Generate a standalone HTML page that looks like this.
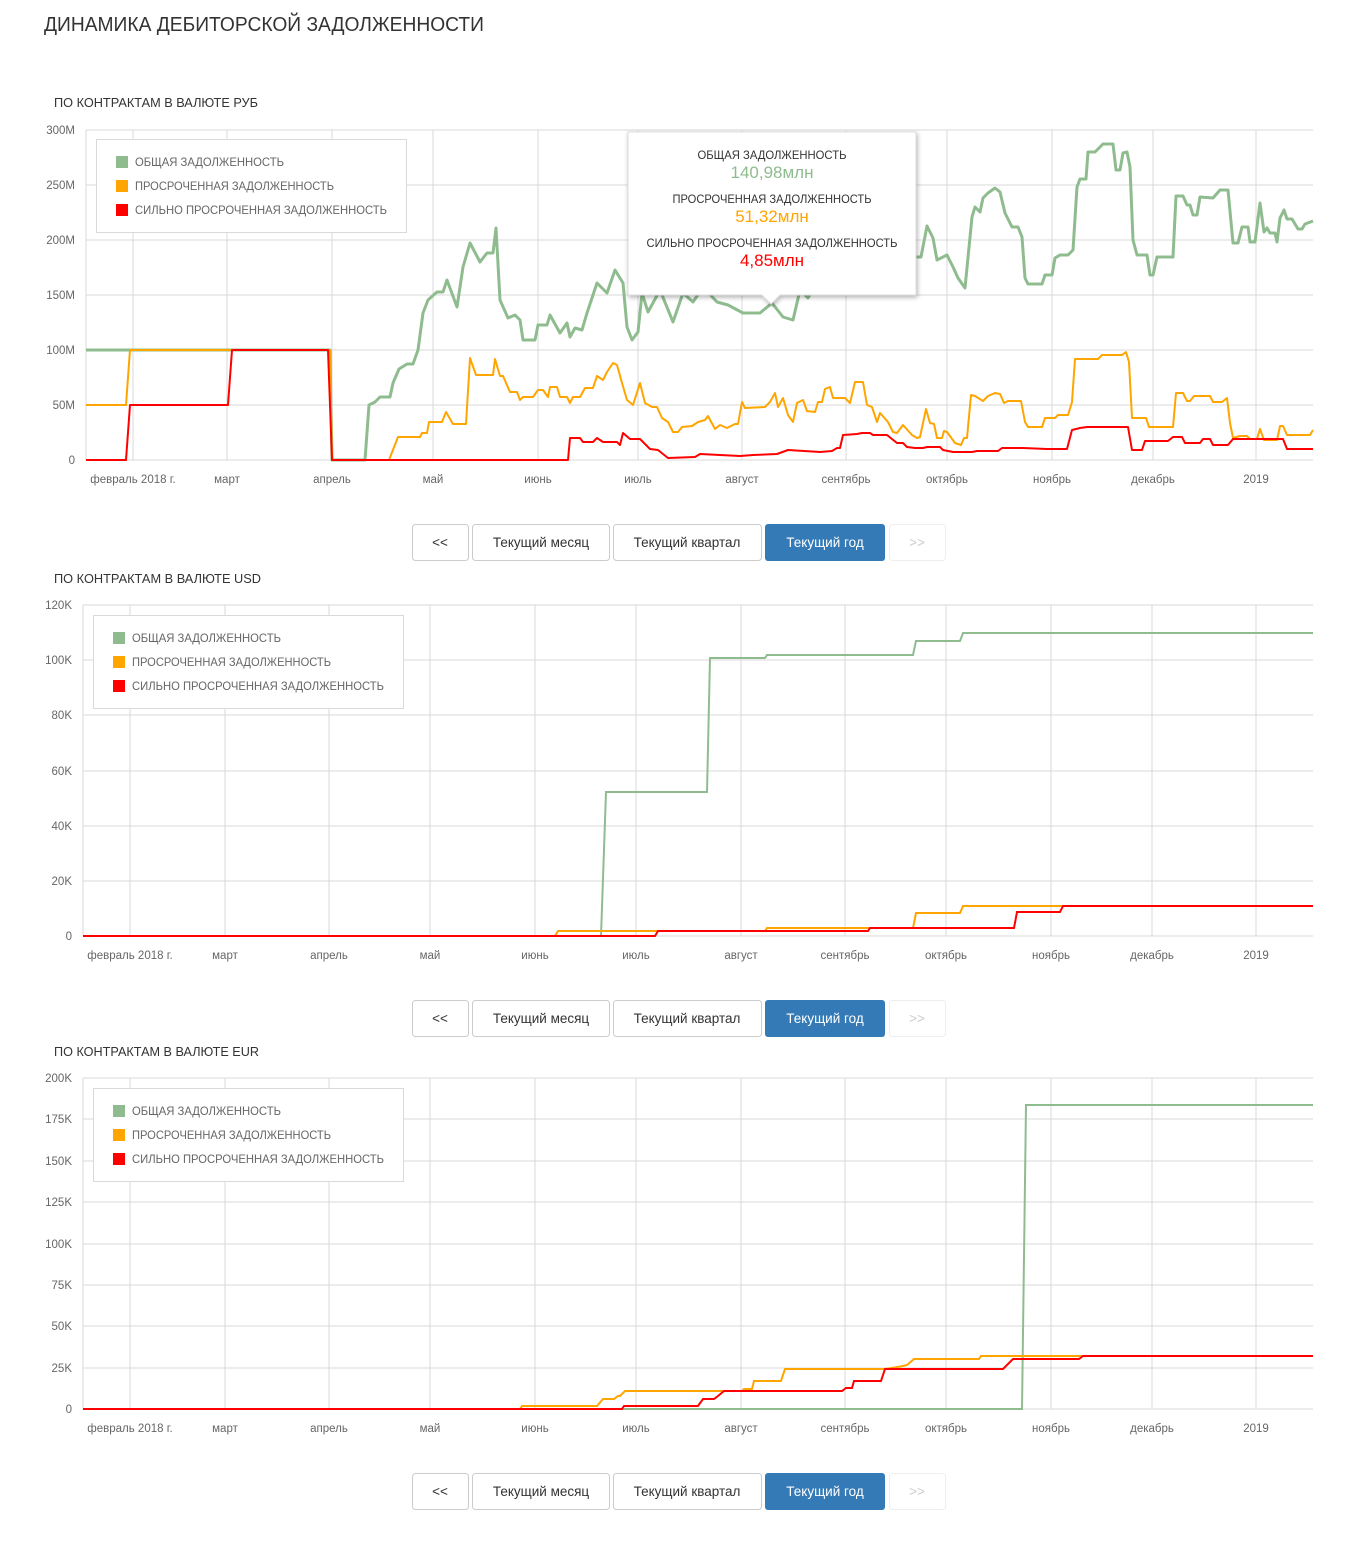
<!DOCTYPE html>
<html><head><meta charset="utf-8"><style>
body{margin:0;background:#fff;}
svg{display:block;font-family:"Liberation Sans","DejaVu Sans",sans-serif;}
.g{stroke:#d9d9d9;stroke-width:1;}
.yl{font-size:11.5px;fill:#666;text-anchor:end;}
.xl{font-size:11.5px;fill:#666;text-anchor:middle;}
.h{font-size:13px;fill:#333;}
.lg{font-size:12px;fill:#666;}
.bt{font-size:13.5px;fill:#333;text-anchor:middle;}
</style></head><body>
<svg width="1350" height="1561" viewBox="0 0 1350 1561">
<defs><filter id="sh" x="-10%" y="-10%" width="120%" height="130%"><feDropShadow dx="1" dy="2" stdDeviation="2.5" flood-color="#000" flood-opacity="0.3"/></filter></defs>
<text x="44" y="31" font-size="20" fill="#333" textLength="440" lengthAdjust="spacingAndGlyphs">ДИНАМИКА ДЕБИТОРСКОЙ ЗАДОЛЖЕННОСТИ</text>

<!-- CHART 1 -->
<text class="h" x="54" y="107" textLength="204" lengthAdjust="spacingAndGlyphs">ПО КОНТРАКТАМ В ВАЛЮТЕ РУБ</text>
<g class="g">
<line x1="86" x2="1313" y1="130" y2="130"/><line x1="86" x2="1313" y1="185" y2="185"/><line x1="86" x2="1313" y1="240" y2="240"/><line x1="86" x2="1313" y1="295" y2="295"/><line x1="86" x2="1313" y1="350" y2="350"/><line x1="86" x2="1313" y1="405" y2="405"/><line x1="86" x2="1313" y1="460" y2="460"/>
<line x1="86" x2="86" y1="130" y2="460"/>
<line x1="133" x2="133" y1="130" y2="460"/><line x1="227" x2="227" y1="130" y2="460"/><line x1="332" x2="332" y1="130" y2="460"/><line x1="433" x2="433" y1="130" y2="460"/><line x1="538" x2="538" y1="130" y2="460"/><line x1="638" x2="638" y1="130" y2="460"/><line x1="742" x2="742" y1="130" y2="460"/><line x1="846" x2="846" y1="130" y2="460"/><line x1="947" x2="947" y1="130" y2="460"/><line x1="1052" x2="1052" y1="130" y2="460"/><line x1="1153" x2="1153" y1="130" y2="460"/><line x1="1256" x2="1256" y1="130" y2="460"/>
</g>
<g class="yl"><text x="75" y="134">300M</text><text x="75" y="189">250M</text><text x="75" y="244">200M</text><text x="75" y="299">150M</text><text x="75" y="354">100M</text><text x="75" y="409">50M</text><text x="75" y="464">0</text></g>
<g class="xl"><text x="133" y="483">февраль 2018 г.</text><text x="227" y="483">март</text><text x="332" y="483">апрель</text><text x="433" y="483">май</text><text x="538" y="483">июнь</text><text x="638" y="483">июль</text><text x="742" y="483">август</text><text x="846" y="483">сентябрь</text><text x="947" y="483">октябрь</text><text x="1052" y="483">ноябрь</text><text x="1153" y="483">декабрь</text><text x="1256" y="483">2019</text></g>
<g fill="none" stroke-width="2" stroke-linejoin="round">
<polyline stroke="#8fbc8f" stroke-width="3" points="86,350 330,350 332,460 365,460 369,405 375,402 380,397 390,397 393,383 399,369 407,364 413,364 418,350 423,313 428,300 437,292 443,292 447,280 457,307 463,267 470,243 480,262 487,253 493,253 496,228 500,300 508,318 515,315 520,320 523,340 535,340 538,325 547,325 550,315 560,333 567,323 570,337 575,328 582,330 587,313 597,283 607,293 615,270 623,283 627,327 632,340 638,332 642,293 648,312 660,290 673,322 683,293 693,302 703,287 717,302 728,305 743,313 760,313 772,303 783,317 793,320 800,290 808,298 815,285 830,280 845,270 860,265 875,275 890,262 905,255 917,257 921,257 927,226 933,238 937,260 947,255 953,267 958,278 965,288 972,217 975,207 980,212 983,198 988,193 995,188 1000,192 1005,213 1012,227 1018,227 1022,237 1025,278 1028,284 1042,284 1045,275 1052,275 1055,258 1060,255 1068,255 1073,250 1077,187 1080,179 1086,179 1088,152 1095,152 1103,144 1113,144 1116,170 1120,170 1123,153 1127,152 1130,167 1133,240 1137,255 1147,255 1150,275 1153,275 1157,257 1173,257 1176,196 1183,196 1187,205 1190,205 1193,215 1197,215 1200,197 1213,198 1220,190 1228,190 1233,243 1238,243 1242,227 1248,227 1250,242 1255,242 1260,203 1264,232 1267,228 1270,233 1275,233 1277,242 1280,218 1284,210 1287,219 1292,219 1298,229 1302,229 1305,224 1313,221"/>
<polyline stroke="#ffa500" points="86,405 126,405 130,350 330,350 332,460 389,460 398,437 420,437 422,433 427,433 429,422 442,422 446,412 453,424 466,424 470,358 476,375 493,375 495,359 500,376 503,376 510,392 517,392 520,400 523,397 533,397 538,390 543,390 548,397 550,387 557,387 560,397 567,397 570,403 573,397 580,397 585,388 593,388 597,376 603,380 607,372 613,363 617,365 622,383 627,400 633,405 640,383 645,403 652,407 657,407 662,418 668,422 673,432 678,432 682,427 692,426 698,422 705,420 708,416 715,429 720,425 727,428 735,424 738,424 742,402 745,408 765,407 770,402 775,393 778,407 783,398 788,415 793,422 797,403 803,400 807,411 815,412 818,402 822,402 825,389 830,387 833,398 845,398 850,403 855,382 863,382 867,405 872,407 877,422 880,413 888,422 893,432 897,433 903,425 912,435 917,438 920,437 926,409 930,423 934,424 937,438 942,438 944,431 947,432 955,443 961,445 964,438 967,438 971,395 975,396 983,401 988,396 995,393 1000,394 1004,403 1008,401 1021,401 1025,422 1028,427 1042,427 1045,418 1055,418 1058,415 1068,415 1072,402 1075,359 1098,359 1102,355 1122,355 1126,352 1129,362 1132,418 1146,418 1149,427 1173,427 1176,393 1183,393 1187,401 1190,401 1194,396 1210,396 1213,402 1222,402 1227,398 1230,423 1233,438 1240,436 1247,436 1250,439 1257,439 1260,429 1264,440 1277,440 1280,426 1283,426 1287,435 1310,435 1313,430"/>
<polyline stroke="#ff0000" points="86,460 126,460 130,405 228,405 232,350 328,350 332,460 568,460 570,438 580,438 583,442 593,442 597,438 603,442 617,442 620,445 623,433 630,439 640,439 650,449 658,450 668,458 695,457 700,454 740,456 753,455 777,454 788,450 820,452 832,451 837,448 840,448 843,435 857,434 862,433 870,433 873,435 887,435 897,443 903,443 907,447 915,448 923,448 927,447 940,447 943,450 953,452 972,452 977,451 998,451 1002,448 1023,448 1047,449 1067,449 1072,430 1080,428 1087,427 1128,427 1132,450 1142,450 1145,441 1168,441 1173,437 1182,437 1185,443 1200,443 1203,439 1210,439 1213,445 1228,445 1233,439 1283,439 1287,449 1313,449"/>
</g>
<rect x="96.5" y="139.5" width="310" height="93" fill="#fff" stroke="#d9d9d9"/>
<rect x="116" y="156" width="12" height="12" fill="#8fbc8f"/><text class="lg" x="135" y="166" textLength="149" lengthAdjust="spacingAndGlyphs">ОБЩАЯ ЗАДОЛЖЕННОСТЬ</text>
<rect x="116" y="180" width="12" height="12" fill="#ffa500"/><text class="lg" x="135" y="190" textLength="199" lengthAdjust="spacingAndGlyphs">ПРОСРОЧЕННАЯ ЗАДОЛЖЕННОСТЬ</text>
<rect x="116" y="204" width="12" height="12" fill="#ff0000"/><text class="lg" x="135" y="214" textLength="252" lengthAdjust="spacingAndGlyphs">СИЛЬНО ПРОСРОЧЕННАЯ ЗАДОЛЖЕННОСТЬ</text>
<!-- tooltip -->
<g filter="url(#sh)"><path d="M628,132 H916 V295 H780 L771,304 L762,295 H628 Z" fill="#fff" stroke="#ddd"/></g>
<g text-anchor="middle">
<text x="772" y="159" font-size="12" fill="#333" textLength="149" lengthAdjust="spacingAndGlyphs">ОБЩАЯ ЗАДОЛЖЕННОСТЬ</text>
<text x="772" y="178" font-size="17" fill="#8fbc8f">140,98млн</text>
<text x="772" y="203" font-size="12" fill="#333" textLength="199" lengthAdjust="spacingAndGlyphs">ПРОСРОЧЕННАЯ ЗАДОЛЖЕННОСТЬ</text>
<text x="772" y="222" font-size="17" fill="#ffa500">51,32млн</text>
<text x="772" y="247" font-size="12" fill="#333" textLength="251" lengthAdjust="spacingAndGlyphs">СИЛЬНО ПРОСРОЧЕННАЯ ЗАДОЛЖЕННОСТЬ</text>
<text x="772" y="266" font-size="17" fill="#ff0000">4,85млн</text>
</g>
<!-- buttons 1 -->
<g id="btns">
<rect x="412.5" y="524.5" width="56" height="36" rx="3" fill="#fff" stroke="#ccc"/><text class="bt" x="440" y="547">&lt;&lt;</text>
<rect x="472.5" y="524.5" width="137" height="36" rx="3" fill="#fff" stroke="#ccc"/><text class="bt" x="541" y="547">Текущий месяц</text>
<rect x="613.5" y="524.5" width="148" height="36" rx="3" fill="#fff" stroke="#ccc"/><text class="bt" x="687" y="547">Текущий квартал</text>
<rect x="765" y="524" width="120" height="37" rx="3" fill="#337ab7"/><text class="bt" x="825" y="547" style="fill:#fff">Текущий год</text>
<rect x="889.5" y="524.5" width="56" height="36" rx="3" fill="#fff" stroke="#eee"/><text class="bt" x="917" y="547" style="fill:#ccc">&gt;&gt;</text>
</g>

<!-- CHART 2 -->
<text class="h" x="54" y="583" textLength="207" lengthAdjust="spacingAndGlyphs">ПО КОНТРАКТАМ В ВАЛЮТЕ USD</text>
<g class="g">
<line x1="83" x2="1313" y1="605" y2="605"/><line x1="83" x2="1313" y1="660" y2="660"/><line x1="83" x2="1313" y1="715" y2="715"/><line x1="83" x2="1313" y1="771" y2="771"/><line x1="83" x2="1313" y1="826" y2="826"/><line x1="83" x2="1313" y1="881" y2="881"/><line x1="83" x2="1313" y1="936" y2="936"/>
<line x1="83" x2="83" y1="605" y2="936"/>
<line x1="130" x2="130" y1="605" y2="936"/><line x1="225" x2="225" y1="605" y2="936"/><line x1="329" x2="329" y1="605" y2="936"/><line x1="430" x2="430" y1="605" y2="936"/><line x1="535" x2="535" y1="605" y2="936"/><line x1="636" x2="636" y1="605" y2="936"/><line x1="741" x2="741" y1="605" y2="936"/><line x1="845" x2="845" y1="605" y2="936"/><line x1="946" x2="946" y1="605" y2="936"/><line x1="1051" x2="1051" y1="605" y2="936"/><line x1="1152" x2="1152" y1="605" y2="936"/><line x1="1256" x2="1256" y1="605" y2="936"/>
</g>
<g class="yl"><text x="72" y="609">120K</text><text x="72" y="664">100K</text><text x="72" y="719">80K</text><text x="72" y="775">60K</text><text x="72" y="830">40K</text><text x="72" y="885">20K</text><text x="72" y="940">0</text></g>
<g class="xl"><text x="130" y="959">февраль 2018 г.</text><text x="225" y="959">март</text><text x="329" y="959">апрель</text><text x="430" y="959">май</text><text x="535" y="959">июнь</text><text x="636" y="959">июль</text><text x="741" y="959">август</text><text x="845" y="959">сентябрь</text><text x="946" y="959">октябрь</text><text x="1051" y="959">ноябрь</text><text x="1152" y="959">декабрь</text><text x="1256" y="959">2019</text></g>
<g fill="none" stroke-width="2">
<polyline stroke="#8fbc8f" points="83,936 601,936 606,792 707,792 710,658 765,658 767,655 913,655 916,641 960,641 963,633 1313,633"/>
<polyline stroke="#ffa500" points="83,936 555,936 558,931 765,931 767,928 868,928 871,928 913,928 916,913 960,913 963,906 1313,906"/>
<polyline stroke="#ff0000" points="83,936 655,936 658,931 868,931 870,928 1014,928 1017,912 1060,912 1063,906 1313,906"/>
</g>
<rect x="93.5" y="615.5" width="310" height="93" fill="#fff" stroke="#d9d9d9"/>
<rect x="113" y="632" width="12" height="12" fill="#8fbc8f"/><text class="lg" x="132" y="642" textLength="149" lengthAdjust="spacingAndGlyphs">ОБЩАЯ ЗАДОЛЖЕННОСТЬ</text>
<rect x="113" y="656" width="12" height="12" fill="#ffa500"/><text class="lg" x="132" y="666" textLength="199" lengthAdjust="spacingAndGlyphs">ПРОСРОЧЕННАЯ ЗАДОЛЖЕННОСТЬ</text>
<rect x="113" y="680" width="12" height="12" fill="#ff0000"/><text class="lg" x="132" y="690" textLength="252" lengthAdjust="spacingAndGlyphs">СИЛЬНО ПРОСРОЧЕННАЯ ЗАДОЛЖЕННОСТЬ</text>
<use href="#btns" y="476"/>

<!-- CHART 3 -->
<text class="h" x="54" y="1056" textLength="205" lengthAdjust="spacingAndGlyphs">ПО КОНТРАКТАМ В ВАЛЮТЕ EUR</text>
<g class="g">
<line x1="83" x2="1313" y1="1078" y2="1078"/><line x1="83" x2="1313" y1="1119" y2="1119"/><line x1="83" x2="1313" y1="1161" y2="1161"/><line x1="83" x2="1313" y1="1202" y2="1202"/><line x1="83" x2="1313" y1="1244" y2="1244"/><line x1="83" x2="1313" y1="1285" y2="1285"/><line x1="83" x2="1313" y1="1326" y2="1326"/><line x1="83" x2="1313" y1="1368" y2="1368"/><line x1="83" x2="1313" y1="1409" y2="1409"/>
<line x1="83" x2="83" y1="1078" y2="1409"/>
<line x1="130" x2="130" y1="1078" y2="1409"/><line x1="225" x2="225" y1="1078" y2="1409"/><line x1="329" x2="329" y1="1078" y2="1409"/><line x1="430" x2="430" y1="1078" y2="1409"/><line x1="535" x2="535" y1="1078" y2="1409"/><line x1="636" x2="636" y1="1078" y2="1409"/><line x1="741" x2="741" y1="1078" y2="1409"/><line x1="845" x2="845" y1="1078" y2="1409"/><line x1="946" x2="946" y1="1078" y2="1409"/><line x1="1051" x2="1051" y1="1078" y2="1409"/><line x1="1152" x2="1152" y1="1078" y2="1409"/><line x1="1256" x2="1256" y1="1078" y2="1409"/>
</g>
<g class="yl"><text x="72" y="1082">200K</text><text x="72" y="1123">175K</text><text x="72" y="1165">150K</text><text x="72" y="1206">125K</text><text x="72" y="1248">100K</text><text x="72" y="1289">75K</text><text x="72" y="1330">50K</text><text x="72" y="1372">25K</text><text x="72" y="1413">0</text></g>
<g class="xl"><text x="130" y="1432">февраль 2018 г.</text><text x="225" y="1432">март</text><text x="329" y="1432">апрель</text><text x="430" y="1432">май</text><text x="535" y="1432">июнь</text><text x="636" y="1432">июль</text><text x="741" y="1432">август</text><text x="845" y="1432">сентябрь</text><text x="946" y="1432">октябрь</text><text x="1051" y="1432">ноябрь</text><text x="1152" y="1432">декабрь</text><text x="1256" y="1432">2019</text></g>
<g fill="none" stroke-width="2">
<polyline stroke="#8fbc8f" points="83,1409 1022,1409 1026,1105 1313,1105"/>
<polyline stroke="#ffa500" points="83,1409 520,1409 522,1406 597,1406 603,1399 614,1399 618,1396 620,1396 625,1391 724,1391 742,1391 744,1389 752,1389 754,1381 781,1381 785,1369 885,1369 903,1366 907,1365 914,1359 979,1359 981,1356 1083,1356"/>
<polyline stroke="#ff0000" points="83,1409 622,1409 624,1406 698,1406 703,1399 714,1399 718,1396 724,1391 842,1391 846,1388 852,1388 854,1381 881,1381 885,1369 1003,1369 1007,1365 1013,1359 1079,1359 1083,1356 1313,1356"/>
</g>
<rect x="93.5" y="1088.5" width="310" height="93" fill="#fff" stroke="#d9d9d9"/>
<rect x="113" y="1105" width="12" height="12" fill="#8fbc8f"/><text class="lg" x="132" y="1115" textLength="149" lengthAdjust="spacingAndGlyphs">ОБЩАЯ ЗАДОЛЖЕННОСТЬ</text>
<rect x="113" y="1129" width="12" height="12" fill="#ffa500"/><text class="lg" x="132" y="1139" textLength="199" lengthAdjust="spacingAndGlyphs">ПРОСРОЧЕННАЯ ЗАДОЛЖЕННОСТЬ</text>
<rect x="113" y="1153" width="12" height="12" fill="#ff0000"/><text class="lg" x="132" y="1163" textLength="252" lengthAdjust="spacingAndGlyphs">СИЛЬНО ПРОСРОЧЕННАЯ ЗАДОЛЖЕННОСТЬ</text>
<use href="#btns" y="949"/>
</svg>
</body></html>
